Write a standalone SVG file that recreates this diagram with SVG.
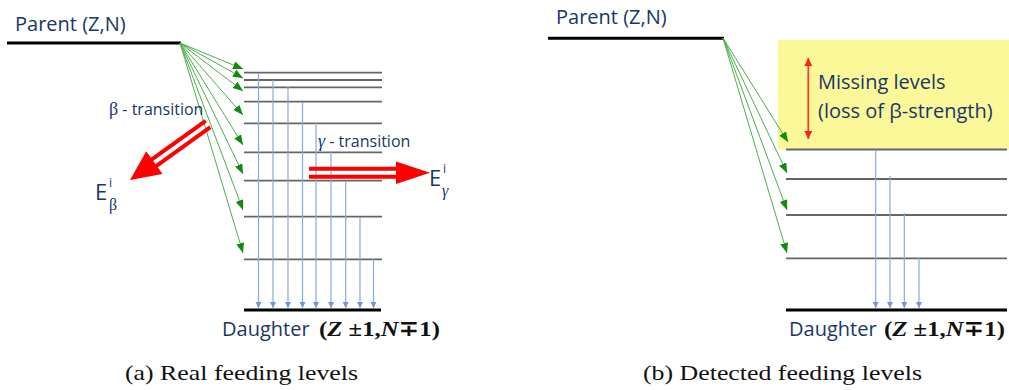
<svg xmlns="http://www.w3.org/2000/svg" width="1009" height="390" viewBox="0 0 1009 390">
<defs>
<style>
.lbl{font-family:"Open Sans","Liberation Sans",sans-serif;fill:#1A3668}
.cap{font-family:"Liberation Serif","DejaVu Serif",serif;fill:#111;font-size:21px}
.math{font-family:"Liberation Serif","DejaVu Serif",serif;fill:#111;font-weight:bold;font-size:22px}
.gnd{stroke:#000;stroke-width:3}
.lvl{stroke:#666;stroke-width:1.8}
.feed{stroke:#4DAF4D;stroke-width:1;fill:none;marker-end:url(#ga)}
.gam{stroke:#86ABDB;stroke-width:1.2;fill:none;marker-end:url(#ba)}
.red{stroke:#FF0000;stroke-width:4;fill:none}
</style>
<marker id="ga" markerUnits="userSpaceOnUse" markerWidth="12" markerHeight="10" refX="10" refY="4" orient="auto"><path d="M0,0 L10,4 L0,8 Z" fill="#13890F"/></marker>
<marker id="ba" markerUnits="userSpaceOnUse" markerWidth="8" markerHeight="8" refX="6" refY="3" orient="auto"><path d="M0,0 L6,3 L0,6 Z" fill="#6F98D2"/></marker>
<marker id="ra" markerUnits="userSpaceOnUse" markerWidth="10" markerHeight="10" refX="8" refY="4" orient="auto-start-reverse"><path d="M0,0 L8,4 L0,8 Z" fill="#FF2020"/></marker>
</defs>
<rect width="1009" height="390" fill="#fff"/>

<g id="panel-a">
<g id="parent-a">
<text class="lbl" x="15" y="31" font-size="20">Parent (Z,N)</text>
<line class="gnd" x1="7" y1="43" x2="181" y2="43"/>
</g>
<g id="levels-a">
<line class="lvl" x1="244" y1="72.7" x2="382" y2="72.7"/>
<line class="lvl" x1="244" y1="80" x2="382" y2="80"/>
<line class="lvl" x1="244" y1="87.3" x2="382" y2="87.3"/>
<line class="lvl" x1="244" y1="101.7" x2="382" y2="101.7"/>
<line class="lvl" x1="244" y1="123.3" x2="382" y2="123.3"/>
<line class="lvl" x1="244" y1="152.3" x2="382" y2="152.3"/>
<line class="lvl" x1="244" y1="180.7" x2="382" y2="180.7"/>
<line class="lvl" x1="244" y1="216.7" x2="382" y2="216.7"/>
<line class="lvl" x1="244" y1="259.3" x2="382" y2="259.3"/>
</g>
<g id="daughter-a">
<line class="gnd" x1="244" y1="310" x2="381" y2="310"/>
<text class="lbl" x="222" y="336" font-size="20">Daughter</text>
<text class="math" x="319" y="336" textLength="121" lengthAdjust="spacingAndGlyphs">(<tspan font-style="italic">Z</tspan> ±1,<tspan font-style="italic">N</tspan>∓1)</text>
</g>
<g id="connectors-a">
<path class="feed" d="M180,43 L243,69"/>
<path class="feed" d="M180,43 L243,78"/>
<path class="feed" d="M180,43 L243,91"/>
<path class="feed" d="M180,43 L243,115"/>
<path class="feed" d="M180,43 L243,145"/>
<path class="feed" d="M180,43 L243,174"/>
<path class="feed" d="M180,43 L243,210"/>
<path class="feed" d="M180,43 L243,253"/>
<path class="gam" d="M258.5,73 V308"/>
<path class="gam" d="M273,80 V308"/>
<path class="gam" d="M288,87 V308"/>
<path class="gam" d="M302.5,102 V308"/>
<path class="gam" d="M316,123 V308"/>
<path class="gam" d="M331,152 V308"/>
<path class="gam" d="M345.7,181 V308"/>
<path class="gam" d="M360,217 V308"/>
<path class="gam" d="M373.5,259 V308"/>
</g>
<g id="beta-arrow">
<g transform="translate(208,124) rotate(144.3)">
<line class="red" x1="0" y1="-4" x2="68" y2="-4"/>
<line class="red" x1="0" y1="4" x2="68" y2="4"/>
<path d="M66,-14 L96,0 L66,14 Z" fill="#FF0000"/>
</g>
<text class="lbl" x="109" y="115" font-size="16"><tspan font-family="Liberation Serif,serif" font-size="18">β</tspan> - transition</text>
<text class="lbl" x="95" y="200" font-size="22">E<tspan x="109" y="187" font-size="12">i</tspan><tspan x="109" y="210" font-size="16" font-family="Liberation Serif,serif">β</tspan></text>
</g>
<g id="gamma-arrow">
<line class="red" x1="309" y1="168.7" x2="400" y2="168.7"/>
<line class="red" x1="309" y1="176.7" x2="400" y2="176.7"/>
<path d="M396,161.5 L430,172.7 L396,184 Z" fill="#FF0000"/>
<text class="lbl" x="318" y="147" font-size="16"><tspan font-family="Liberation Serif,serif" font-style="italic" font-size="18">γ</tspan> - transition</text>
<text class="lbl" x="429" y="186" font-size="22">E<tspan x="443" y="173" font-size="12">i</tspan><tspan x="442" y="196" font-size="16" font-family="Liberation Serif,serif" font-style="italic">γ</tspan></text>
</g>
<text class="cap" x="125" y="380" textLength="233" lengthAdjust="spacingAndGlyphs">(a) Real feeding levels</text>
</g>

<g id="panel-b">
<g id="missing-box">
<rect x="778" y="40" width="231" height="109.5" fill="#FBF89A"/>
<line x1="808.3" y1="58" x2="808.3" y2="139" stroke="#FF3B2B" stroke-width="1.8" marker-start="url(#ra)" marker-end="url(#ra)"/>
<text class="lbl" x="818" y="89" font-size="20">Missing levels</text>
<text class="lbl" x="818" y="118" font-size="20">(loss of β-strength)</text>
</g>
<g id="parent-b">
<text class="lbl" x="556" y="24" font-size="20">Parent (Z,N)</text>
<line class="gnd" x1="548" y1="38.3" x2="724" y2="38.3"/>
</g>
<g id="levels-b">
<line class="lvl" x1="786" y1="149.5" x2="1007" y2="149.5"/>
<line class="lvl" x1="786" y1="179" x2="1007" y2="179"/>
<line class="lvl" x1="786" y1="215" x2="1007" y2="215"/>
<line class="lvl" x1="786" y1="258.3" x2="1007" y2="258.3"/>
</g>
<g id="daughter-b">
<line class="gnd" x1="786" y1="310" x2="1007" y2="310"/>
<text class="lbl" x="789" y="336" font-size="20">Daughter</text>
<text class="math" x="884" y="336" textLength="121" lengthAdjust="spacingAndGlyphs">(<tspan font-style="italic">Z</tspan> ±1,<tspan font-style="italic">N</tspan>∓1)</text>
</g>
<g id="connectors-b">
<path class="feed" d="M723,38 L788,142"/>
<path class="feed" d="M723,38 L787,173"/>
<path class="feed" d="M723,38 L787,210"/>
<path class="feed" d="M723,38 L787,253"/>
<path class="gam" d="M875.7,150 V308"/>
<path class="gam" d="M890,176 V308"/>
<path class="gam" d="M904.3,213 V308"/>
<path class="gam" d="M919,257 V308"/>
</g>
<text class="cap" x="643" y="380" textLength="279" lengthAdjust="spacingAndGlyphs">(b) Detected feeding levels</text>
</g>
</svg>
